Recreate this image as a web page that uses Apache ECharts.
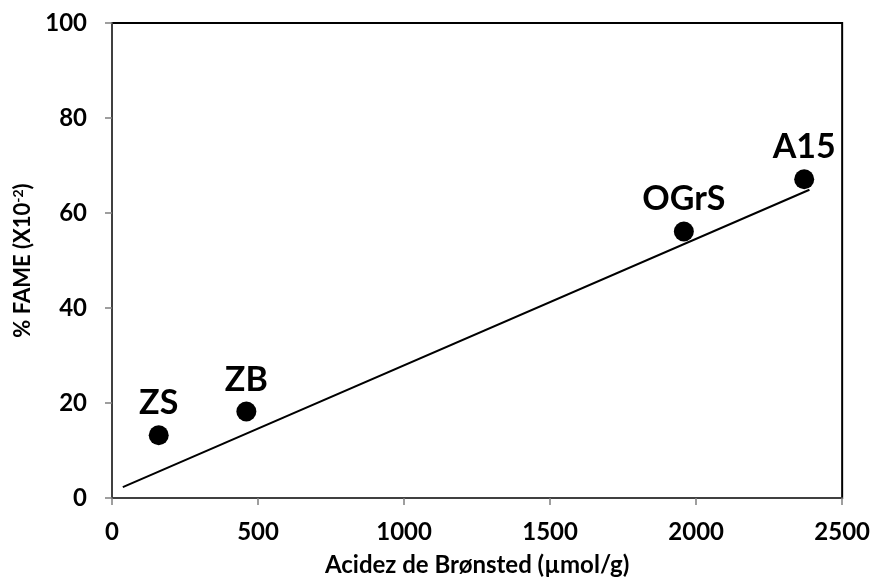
<!DOCTYPE html>
<html>
<head>
<meta charset="utf-8">
<script src="https://cdn.jsdelivr.net/npm/echarts@6/dist/echarts.min.js"></script>
<style>
  html, body { margin: 0; padding: 0; background: #fff; }
  #main { width: 873px; height: 582px; }
</style>
</head>
<body>
<div id="main"></div>
<script>
// catalyst samples: Brønsted acidity vs FAME
var samples = ['ZS', 'ZB', 'OGrS', 'A15'];
var acidity = [160, 460, 1958, 2370];
var fame = [13.2, 18.2, 56.1, 67.1];

// trend line end points
var trendX = [37, 2388];
var trendY = [2.3, 64.9];

var xTicks = [0, 500, 1000, 1500, 2000, 2500];
var yTicks = [0, 20, 40, 60, 80, 100];

var myChart = echarts.init(document.getElementById('main'));

var pts = samples.map(function (s, i) {
    return { name: s, value: [acidity[i], fame[i]] };
});
var trend = trendX.map(function (x, i) { return [x, trendY[i]]; });

var font = 'Lato, "Open Sans", sans-serif';

var option = {
    backgroundColor: '#fff',
    animation: false,
    grid: {
        left: 112, right: 30, top: 23, bottom: 82,
        show: true,
        borderColor: '#000',
        borderWidth: 2
    },
    xAxis: {
        type: 'value',
        min: xTicks[0],
        max: xTicks[xTicks.length - 1],
        interval: 500,
        name: 'Acidez de Brønsted (µmol/g)',
        nameLocation: 'middle',
        nameGap: 55,
        nameTextStyle: { fontFamily: font, fontWeight: 'bold', fontSize: 24, color: '#000' },
        axisLine: { show: true, onZero: false, lineStyle: { color: '#404040', width: 2 } },
        axisTick: { show: true, length: 7, lineStyle: { color: '#7f7f7f', width: 1.5 } },
        axisLabel: {
            fontFamily: font, fontWeight: 'bold', fontSize: 24, color: '#000', margin: 22,
            formatter: function (v) { return String(v); }
        },
        splitLine: { show: false }
    },
    yAxis: {
        type: 'value',
        min: yTicks[0],
        max: yTicks[yTicks.length - 1],
        interval: 20,
        name: '{a|% FAME (X10}{s|-2}{a|)}',
        nameLocation: 'middle',
        nameGap: 71,
        nameRotate: 90,
        nameTextStyle: {
            rich: {
                a: { fontFamily: font, fontWeight: 'bold', fontSize: 22, color: '#000' },
                s: { fontFamily: font, fontWeight: 'bold', fontSize: 14, color: '#000', verticalAlign: 'top', padding: [0, 0, 9, 0] }
            }
        },
        axisLine: { show: true, onZero: false, lineStyle: { color: '#404040', width: 2 } },
        axisTick: { show: true, length: 7, lineStyle: { color: '#7f7f7f', width: 1.5 } },
        axisLabel: {
            fontFamily: font, fontWeight: 'bold', fontSize: 24, color: '#000', margin: 25,
            formatter: function (v) { return String(v); }
        },
        splitLine: { show: false }
    },
    series: [
        {
            type: 'line',
            data: trend,
            symbol: 'none',
            lineStyle: { color: '#000', width: 2 },
            z: 2
        },
        {
            type: 'scatter',
            data: pts,
            symbol: 'circle',
            symbolSize: 20,
            itemStyle: { color: '#000', opacity: 1 },
            label: {
                show: true,
                position: 'top',
                distance: 5,
                formatter: '{b}',
                fontFamily: font,
                fontWeight: 'bold',
                fontSize: 34,
                color: '#000'
            },
            z: 3
        }
    ]
};

myChart.setOption(option);
</script>
</body>
</html>
